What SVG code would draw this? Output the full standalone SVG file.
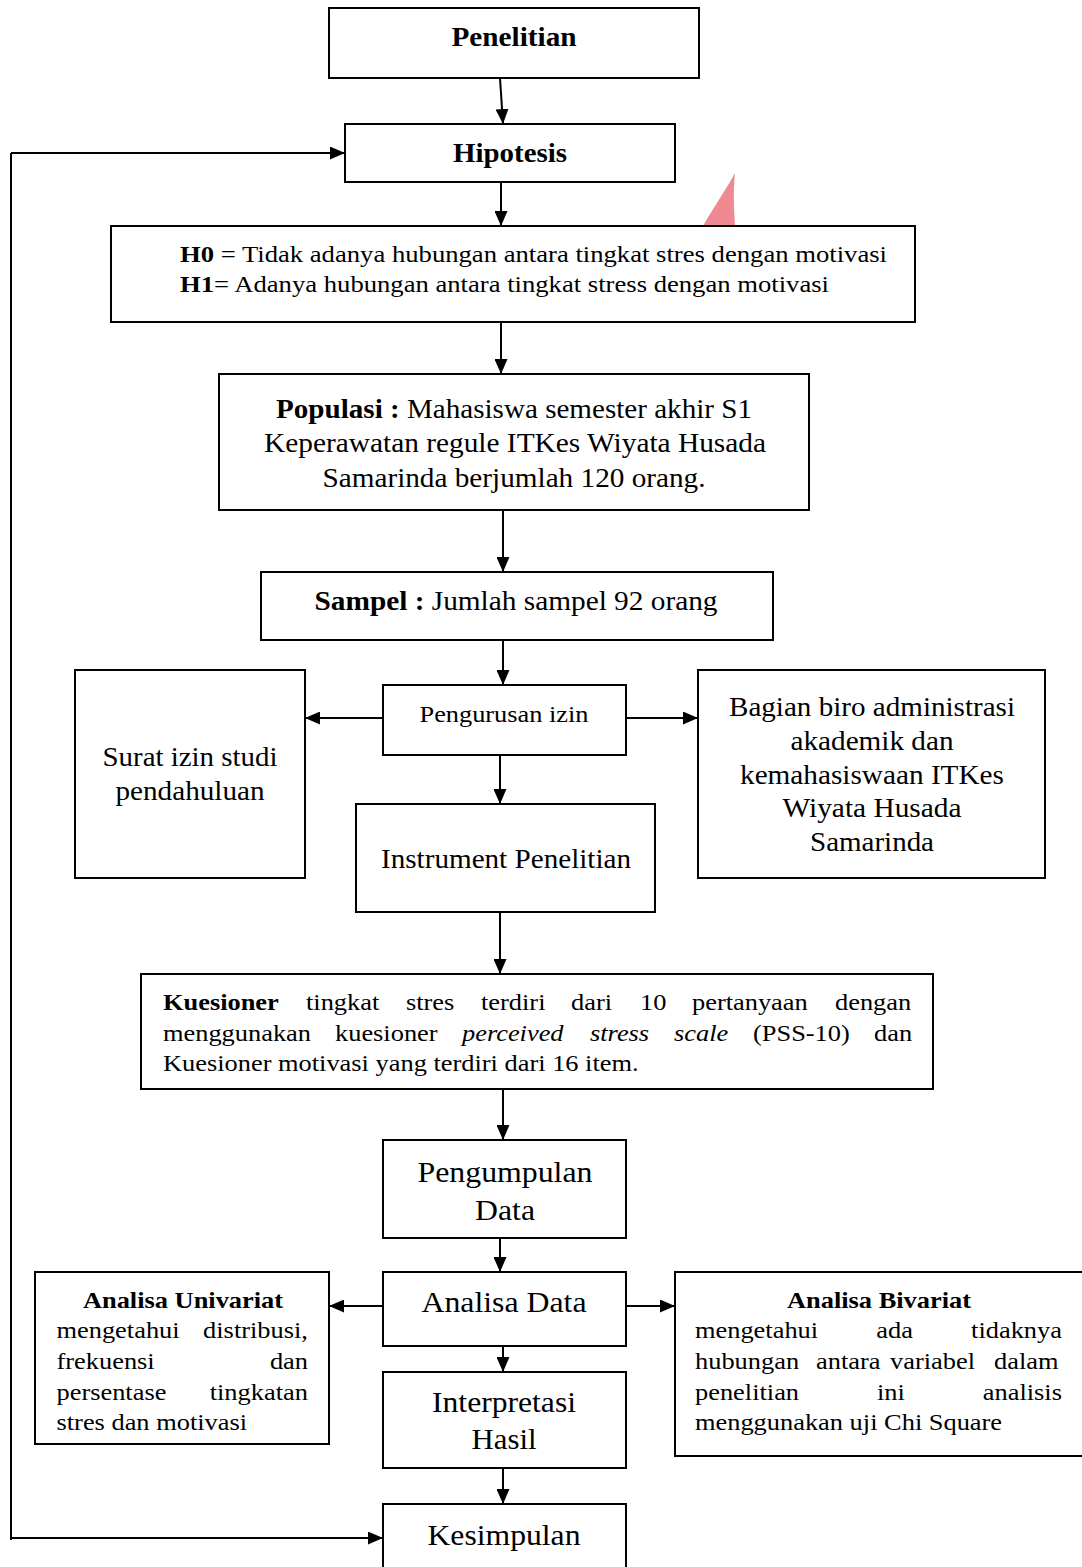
<svg xmlns="http://www.w3.org/2000/svg" width="1082" height="1567" viewBox="0 0 1082 1567">
<defs>
<marker id="ah" viewBox="0 0 15 13" refX="15" refY="6.5" markerWidth="15" markerHeight="13" markerUnits="userSpaceOnUse" orient="auto">
<path d="M0,0 L15,6.5 L0,13 z" fill="#000"/>
</marker>
<style>
.box{fill:#fff;stroke:#000;stroke-width:2}
.t{font-family:"Liberation Serif","Times New Roman",serif;fill:#000}
.b{font-weight:bold}
.i{font-style:italic}
.c{text-anchor:middle}
.ln{fill:none;stroke:#000;stroke-width:2;marker-end:url(#ah)}
.pl{fill:none;stroke:#000;stroke-width:2}
</style>
</defs>
<rect width="1082" height="1567" fill="#fff"/>
<path d="M703,226 C715,205 727,188 735,173 C733,190 734,208 735,226 Z" fill="#f08a92"/>
<g id="connectors">
<path class="pl" d="M11,1540 L11,153"/>
<path class="ln" d="M11,153 L345,153"/>
<path class="ln" d="M11,1538 L383,1538"/>
<path class="ln" d="M500,78 L503,124"/>
<path class="ln" d="M501,182 L501,226"/>
<path class="ln" d="M501,322 L501,374"/>
<path class="ln" d="M503,510 L503,572"/>
<path class="ln" d="M503,640 L503,685"/>
<path class="ln" d="M383,718 L305,718"/>
<path class="ln" d="M626,718 L698,718"/>
<path class="ln" d="M500,755 L500,804"/>
<path class="ln" d="M500,912 L500,974"/>
<path class="ln" d="M503,1089 L503,1140"/>
<path class="ln" d="M500,1238 L500,1272"/>
<path class="ln" d="M383,1306 L329,1306"/>
<path class="ln" d="M626,1306 L675,1306"/>
<path class="ln" d="M503,1346 L503,1372"/>
<path class="ln" d="M503,1468 L503,1504"/>
</g>
<g id="penelitian"><rect class="box" x="329" y="8" width="370" height="70"/><text class="t b c" x="514" y="46" font-size="28" textLength="125" lengthAdjust="spacingAndGlyphs">Penelitian</text></g>
<g id="hipotesis"><rect class="box" x="345" y="124" width="330" height="58"/><text class="t b c" x="510" y="162" font-size="28" textLength="114" lengthAdjust="spacingAndGlyphs">Hipotesis</text></g>
<g id="hipotesis-isi"><rect class="box" x="111" y="226" width="804" height="96"/>
<text class="t" x="180" y="262" font-size="24" textLength="707" lengthAdjust="spacingAndGlyphs"><tspan class="b">H0</tspan> = Tidak adanya hubungan antara tingkat stres dengan motivasi</text>
<text class="t" x="180" y="292" font-size="24" textLength="649" lengthAdjust="spacingAndGlyphs"><tspan class="b">H1</tspan>= Adanya hubungan antara tingkat stress dengan motivasi</text></g>
<g id="populasi"><rect class="box" x="219" y="374" width="590" height="136"/>
<text class="t c" x="514" y="418" font-size="27" textLength="476" lengthAdjust="spacingAndGlyphs"><tspan class="b">Populasi :</tspan> Mahasiswa semester akhir S1</text>
<text class="t c" x="515" y="452" font-size="27" textLength="502" lengthAdjust="spacingAndGlyphs">Keperawatan regule ITKes Wiyata Husada</text>
<text class="t c" x="514" y="487" font-size="27" textLength="383" lengthAdjust="spacingAndGlyphs">Samarinda berjumlah 120 orang.</text></g>
<g id="sampel"><rect class="box" x="261" y="572" width="512" height="68"/>
<text class="t c" x="516" y="610" font-size="27" textLength="403" lengthAdjust="spacingAndGlyphs"><tspan class="b">Sampel :</tspan> Jumlah sampel 92 orang</text></g>
<g id="pengurusan"><rect class="box" x="383" y="685" width="243" height="70"/>
<text class="t c" x="504" y="722" font-size="24" textLength="169" lengthAdjust="spacingAndGlyphs">Pengurusan izin</text></g>
<g id="surat"><rect class="box" x="75" y="670" width="230" height="208"/>
<text class="t c" x="190" y="766" font-size="27" textLength="175" lengthAdjust="spacingAndGlyphs">Surat izin studi</text>
<text class="t c" x="190" y="800" font-size="27" textLength="149" lengthAdjust="spacingAndGlyphs">pendahuluan</text></g>
<g id="bagian"><rect class="box" x="698" y="670" width="347" height="208"/>
<text class="t c" x="872" y="716" font-size="27" textLength="286" lengthAdjust="spacingAndGlyphs">Bagian biro administrasi</text>
<text class="t c" x="872" y="750" font-size="27" textLength="163" lengthAdjust="spacingAndGlyphs">akademik dan</text>
<text class="t c" x="872" y="784" font-size="27" textLength="264" lengthAdjust="spacingAndGlyphs">kemahasiswaan ITKes</text>
<text class="t c" x="872" y="817" font-size="27" textLength="179" lengthAdjust="spacingAndGlyphs">Wiyata Husada</text>
<text class="t c" x="872" y="851" font-size="27" textLength="124" lengthAdjust="spacingAndGlyphs">Samarinda</text></g>
<g id="instrument"><rect class="box" x="356" y="804" width="299" height="108"/>
<text class="t c" x="506" y="868" font-size="27" textLength="250" lengthAdjust="spacingAndGlyphs">Instrument Penelitian</text></g>
<g id="kuesioner"><rect class="box" x="141" y="974" width="792" height="115"/>
<g transform="scale(1.1 1)">
<text class="t" y="1010" font-size="24"><tspan class="b" x="148.18">Kuesioner</tspan><tspan x="278.18">tingkat</tspan><tspan x="369.09">stres</tspan><tspan x="437.27">terdiri</tspan><tspan x="519.09">dari</tspan><tspan x="581.82">10</tspan><tspan x="629.09">pertanyaan</tspan><tspan x="759.09">dengan</tspan></text>
<text class="t" y="1041" font-size="24"><tspan x="148.18">menggunakan</tspan><tspan x="304.55">kuesioner</tspan><tspan class="i" x="420">perceived</tspan><tspan class="i" x="536.36">stress</tspan><tspan class="i" x="612.73">scale</tspan><tspan x="684.55">(PSS-10)</tspan><tspan x="794.55">dan</tspan></text>
<text class="t" x="148.18" y="1071" font-size="24">Kuesioner motivasi yang terdiri dari 16 item.</text>
</g></g>
<g id="pengumpulan"><rect class="box" x="383" y="1140" width="243" height="98"/>
<text class="t c" x="505" y="1182" font-size="29" textLength="175" lengthAdjust="spacingAndGlyphs">Pengumpulan</text>
<text class="t c" x="505" y="1220" font-size="29" textLength="60" lengthAdjust="spacingAndGlyphs">Data</text></g>
<g id="analisa-data"><rect class="box" x="383" y="1272" width="243" height="74"/>
<text class="t c" x="504" y="1312" font-size="29" textLength="165" lengthAdjust="spacingAndGlyphs">Analisa Data</text></g>
<g id="univariat"><rect class="box" x="35" y="1272" width="294" height="172"/>
<g transform="scale(1.1 1)">
<text class="t b c" x="166.36" y="1308" font-size="24">Analisa Univariat</text>
<text class="t" y="1338" font-size="24"><tspan x="51.36">mengetahui</tspan><tspan x="184.64">distribusi,</tspan></text>
<text class="t" y="1369" font-size="24"><tspan x="51.36">frekuensi</tspan><tspan x="245.36">dan</tspan></text>
<text class="t" y="1400" font-size="24"><tspan x="51.36">persentase</tspan><tspan x="190.64">tingkatan</tspan></text>
<text class="t" x="51.36" y="1430" font-size="24">stres dan motivasi</text>
</g></g>
<g id="bivariat"><rect class="box" x="675" y="1272" width="420" height="184"/>
<g transform="scale(1.1 1)">
<text class="t b c" x="799.09" y="1308" font-size="24">Analisa Bivariat</text>
<text class="t" y="1338" font-size="24"><tspan x="631.82">mengetahui</tspan><tspan x="796.64">ada</tspan><tspan x="882.82">tidaknya</tspan></text>
<text class="t" y="1369" font-size="24"><tspan x="631.82">hubungan</tspan><tspan x="741.82">antara</tspan><tspan x="809.09">variabel</tspan><tspan x="903.64">dalam</tspan></text>
<text class="t" y="1400" font-size="24"><tspan x="631.82">penelitian</tspan><tspan x="797.27">ini</tspan><tspan x="893.45">analisis</tspan></text>
<text class="t" x="631.82" y="1430" font-size="24">menggunakan uji Chi Square</text>
</g></g>
<g id="interpretasi"><rect class="box" x="383" y="1372" width="243" height="96"/>
<text class="t c" x="504" y="1412" font-size="29" textLength="144" lengthAdjust="spacingAndGlyphs">Interpretasi</text>
<text class="t c" x="504" y="1449" font-size="29" textLength="65" lengthAdjust="spacingAndGlyphs">Hasil</text></g>
<g id="kesimpulan"><rect class="box" x="383" y="1504" width="243" height="70"/>
<text class="t c" x="504" y="1545" font-size="29" textLength="153" lengthAdjust="spacingAndGlyphs">Kesimpulan</text></g>
</svg>
